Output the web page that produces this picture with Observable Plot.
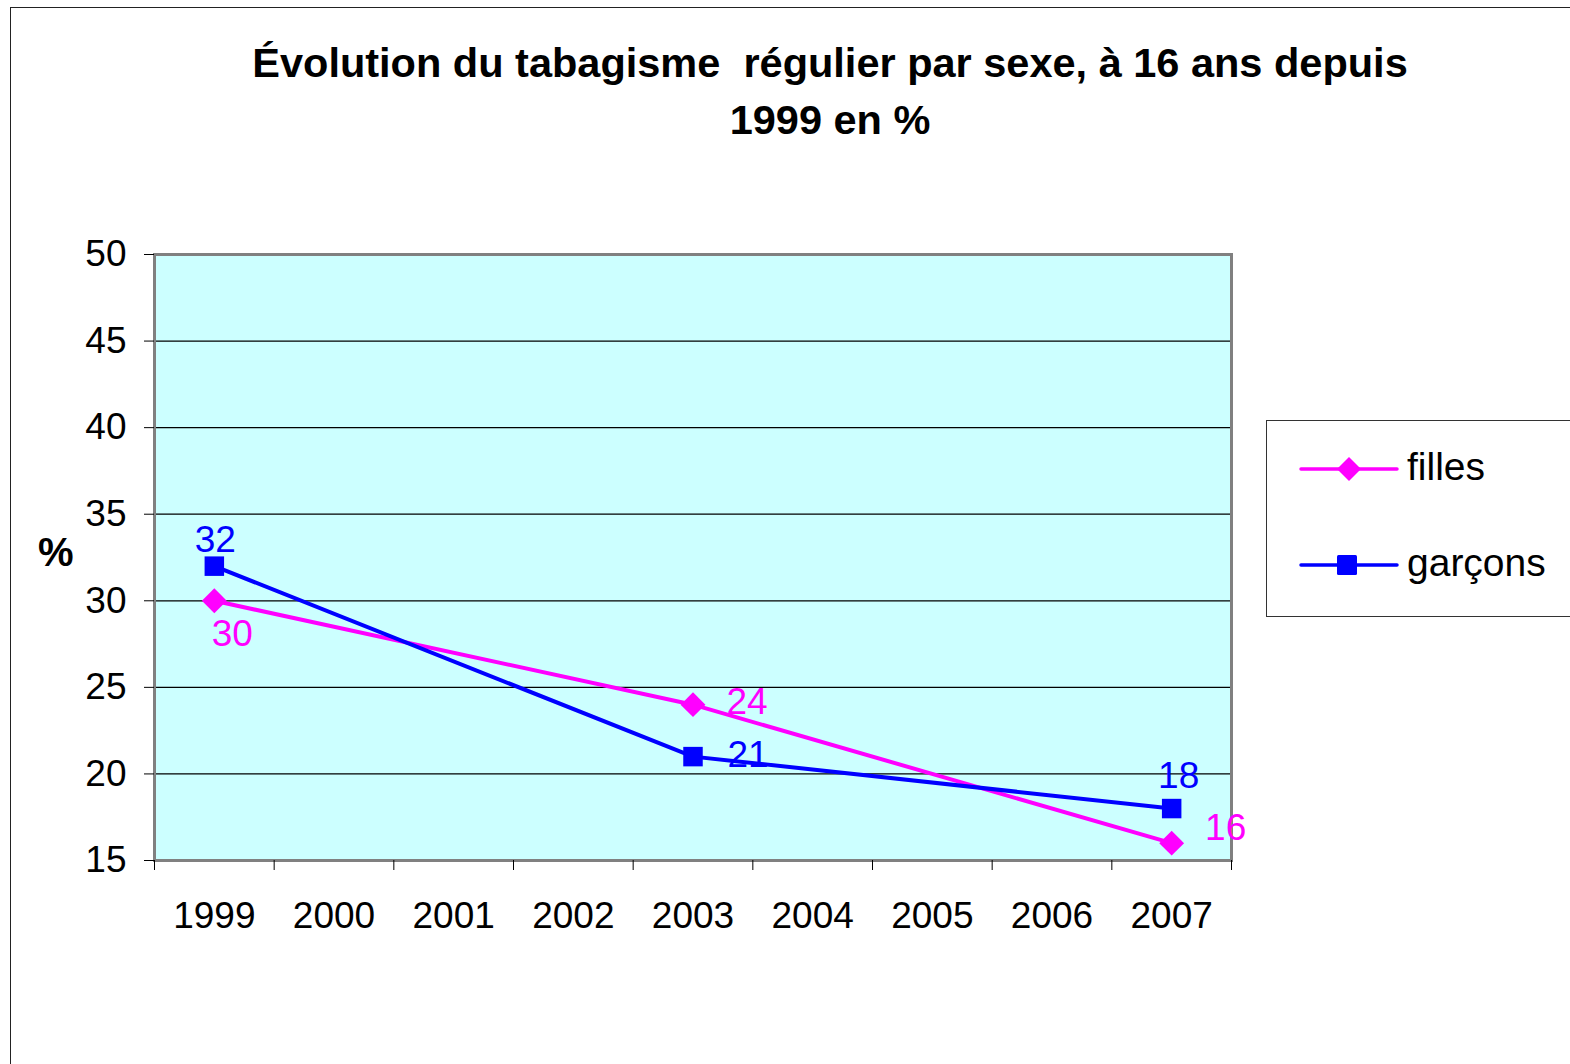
<!DOCTYPE html>
<html><head><meta charset="utf-8">
<script src="https://cdn.jsdelivr.net/npm/d3@7"></script>
<script src="https://cdn.jsdelivr.net/npm/@observablehq/plot@0.6"></script>
<style>
body{margin:0;background:#fff;font-family:"Liberation Sans",Arial,sans-serif;}
#wrap{position:relative;width:1570px;height:1064px;overflow:hidden;background:#fff;}
#frame{position:absolute;left:10px;top:7px;width:1700px;height:1200px;border:1.5px solid #222;box-sizing:border-box;}
#title{position:absolute;left:0;top:34px;width:1660px;text-align:center;font-weight:bold;font-size:41.5px;line-height:57px;white-space:pre;color:#000;}
#chart{position:absolute;left:0;top:0;}
#ylab{position:absolute;left:38px;top:532px;font-weight:bold;font-size:40px;line-height:40px;}
#legend{position:absolute;left:1266px;top:420px;width:400px;height:197px;border:1.5px solid #333;box-sizing:border-box;background:#fff;}
.item{position:absolute;left:0;height:50px;}
.item svg{position:absolute;left:32px;top:0;}
.item span{position:absolute;left:140px;font-size:39px;line-height:50px;top:-2px;}
</style></head>
<body>
<div id="wrap">
  <div id="frame"></div>
  <div id="chart"></div>
  <div id="title"></div>
  <div id="ylab">%</div>
  <div id="legend"></div>
</div>
<script>
// ---- data ----
const years = [1999, 2000, 2001, 2002, 2003, 2004, 2005, 2006, 2007];
const surveyYears = [1999, 2003, 2007];
const filles = [30, 24, 16];
const garcons = [32, 21, 18];
const seriesNames = ["filles", "garçons"];
const yTicks = [15, 20, 25, 30, 35, 40, 45, 50];
const titleText = "Évolution du tabagisme  régulier par sexe, à 16 ans depuis\n1999 en %";

// ---- style config ----
const colors = ["#FF00FF", "#0000FF"];
const symbols = ["diamond2", "square"];
const symbolR = [11.2, 11];
const labelOffsets = {
  "filles": [[18, 33], [54, -3], [54, -15]],
  "garçons": [[1, -26], [55, -1], [7, -32]]
};

const rows = [];
[filles, garcons].forEach((vals, si) => {
  vals.forEach((v, i) => rows.push({series: seriesNames[si], year: surveyYears[i], value: v, idx: i}));
});
const boundaries = [years[0] - 0.5, ...years.map(y => y + 0.5)];

document.getElementById("title").textContent = titleText;

const font = "'Liberation Sans', Arial, sans-serif";
const marks = [
  Plot.frame({fill: "#CCFFFF", stroke: null}),
  Plot.gridY(yTicks, {stroke: "#000", strokeOpacity: 1, strokeWidth: 1.2}),
  Plot.frame({stroke: "#808080", strokeWidth: 3}),
  Plot.axisY(yTicks, {tickSize: 10, tickPadding: 18, fontSize: 37, label: null, tickFormat: d => String(d)}),
  Plot.axisX(boundaries, {tickSize: 10, tickFormat: () => "", label: null}),
  Plot.axisX(years, {tickSize: 0, tickPadding: 41, fontSize: 37, label: null, tickFormat: d => String(d)}),
  Plot.line(rows, {x: "year", y: "value", z: "series", stroke: "series", strokeWidth: 4})
];
seriesNames.forEach((name, si) => {
  marks.push(Plot.dot(rows.filter(d => d.series === name), {x: "year", y: "value", fill: "series", stroke: null, symbol: "series", r: symbolR[si]}));
  rows.filter(d => d.series === name).forEach(d => {
    const [dx, dy] = labelOffsets[name][d.idx];
    marks.push(Plot.text([d], {x: "year", y: "value", text: r => String(r.value), fill: "series", fontSize: 37, dx, dy}));
  });
});

const chart = Plot.plot({
  width: 1570, height: 1064,
  marginLeft: 154, marginRight: 339, marginTop: 254, marginBottom: 204,
  style: {background: "transparent", fontFamily: font, color: "#000", overflow: "visible"},
  x: {domain: [boundaries[0], boundaries[boundaries.length - 1]]},
  y: {domain: [yTicks[0], yTicks[yTicks.length - 1]]},
  color: {domain: seriesNames, range: colors},
  symbol: {domain: seriesNames, range: symbols},
  marks
});
document.getElementById("chart").appendChild(chart);

// legend
const legend = document.getElementById("legend");
const legendTops = [23, 119];
seriesNames.forEach((name, si) => {
  const item = document.createElement("div");
  item.className = "item";
  item.style.top = legendTops[si] + "px";
  const shape = si === 0
    ? `<path d="M50,13 L62,25 L50,37 L38,25 Z" fill="${colors[si]}"/>`
    : `<rect x="38" y="15" width="20" height="20" rx="1.5" fill="${colors[si]}"/>`;
  item.innerHTML = `<svg width="100" height="50"><line x1="2" x2="98" y1="25" y2="25" stroke="${colors[si]}" stroke-width="3.5" stroke-linecap="round"/>${shape}</svg><span>${name}</span>`;
  legend.appendChild(item);
});
</script>
</body></html>
